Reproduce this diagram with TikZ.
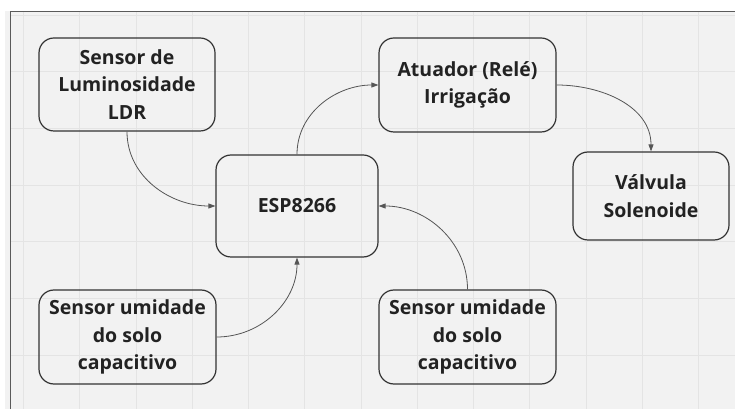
\documentclass[tikz,border=0pt]{standalone}
\usepackage{fontspec}
\setmainfont{Open Sans}
\usetikzlibrary{arrows.meta}
\definecolor{bg}{HTML}{F2F2F2}
\definecolor{gridc}{HTML}{E4E4E4}
\definecolor{frame}{HTML}{5A5A5A}
\definecolor{boxc}{HTML}{333333}
\definecolor{linkc}{HTML}{555555}
\definecolor{txt}{HTML}{222222}
\tikzset{
  blk/.style={draw=boxc, line width=1.2pt, rounded corners=15pt, align=center,
    inner sep=0pt, text=txt, font=\bfseries\fontsize{19.5}{27.5}\selectfont},
  link/.style={draw=linkc, line width=0.8pt, -{Triangle[length=7pt,width=5pt]}},
}
\begin{document}
\begin{tikzpicture}[x=1pt,y=1pt]
\useasboundingbox (0,0) rectangle (735,409);
\fill[white] (0,0) rectangle (735,409);
\fill[bg] (5,0) rectangle (735,398);
\foreach \i in {0,...,12} {
  \draw[gridc, line width=0.8pt] ({23.5+56.25*\i},0) -- ({23.5+56.25*\i},397);
}
\foreach \j in {0,...,6} {
  \draw[gridc, line width=0.8pt] (11,{409-15-56.67*\j}) -- (735,{409-15-56.67*\j});
}
\draw[frame, line width=1.6pt] (10.5,0) -- (10.5,397.5) -- (735,397.5);

\node[blk, minimum width=176pt, minimum height=93pt] (ldr) at (127,324.5) {Sensor de\\Luminosidade\\LDR};
\node[blk, minimum width=177pt, minimum height=94pt] (rele) at (467.5,324) {Atuador (Relé)\\Irrigação};
\node[blk, minimum width=156pt, minimum height=88pt] (valv) at (651,213) {Válvula\\Solenoide};
\node[blk, minimum width=162pt, minimum height=102pt] (esp) at (297,203) {ESP8266};
\node[blk, minimum width=177pt, minimum height=94pt] (soloa) at (127.5,72) {Sensor umidade\\do solo\\capacitivo};
\node[blk, minimum width=177pt, minimum height=94pt] (solob) at (467.5,72) {Sensor umidade\\do solo\\capacitivo};

\draw[link] (ldr.south) to[out=-90,in=180] (esp.west);
\draw[link] (esp.north) to[out=90,in=180] (rele.west);
\draw[link] (rele.east) to[out=0,in=90] (valv.north);
\draw[link] (soloa.east) to[out=0,in=-90] (esp.south);
\draw[link] (solob.north) to[out=90,in=0] (esp.east);
\end{tikzpicture}
\end{document}
